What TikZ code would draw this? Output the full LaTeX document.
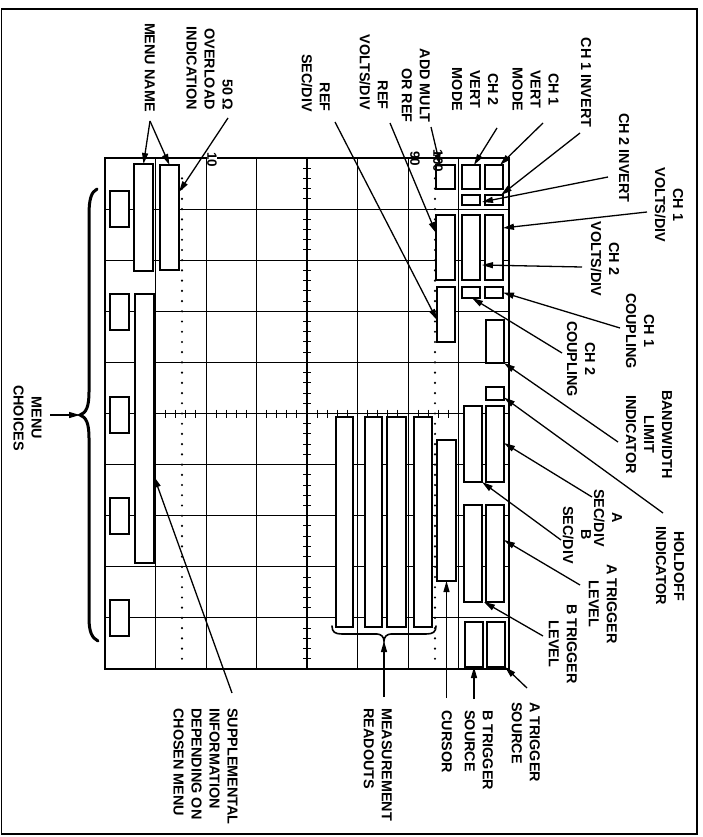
\documentclass[tikz,border=0pt]{standalone}
\usepackage{fontspec}
\setmainfont{Liberation Sans}
\usetikzlibrary{arrows.meta}
\newcommand\bx[5]{\node[bxs,minimum width={(#4-#2)*1pt},minimum height={(#5-#3)*1pt}] (#1) at ({(#2+#4)/2},{(#3+#5)/2}) {};}
\begin{document}
\begin{tikzpicture}[x=1pt,y=-1pt,
 lbl/.style={rotate=-90,inner sep=0pt,font=\fontsize{14.4}{18}\selectfont\bfseries},
 num/.style={rotate=-90,inner sep=0.5pt,font=\fontsize{13.5}{16}\selectfont\bfseries},
 bxs/.style={draw,fill=white,line width=1.4pt,inner sep=0pt,outer sep=0pt},
 gridln/.style={line width=1pt},
 arr/.style={line width=1.3pt,-{Triangle[length=11pt,width=6pt]}},
 bracestyle/.style={line width=1.6pt,line cap=round},
]
\useasboundingbox (0,0) rectangle (703,837);
% outer frame
\draw[line width=1.2pt] (1.5,9) rectangle (697,834);
% graticule
\foreach \i in {0,...,8} \draw[gridln] ({105+\i*50.5},158) -- ({105+\i*50.5},669);
\foreach \j in {0,...,10} \draw[gridln] (105,{158+\j*51.1}) -- (509,{158+\j*51.1});
\draw[line width=1.5pt] (307,158) -- (307,669);
\draw[line width=1.5pt] (105,413.5) -- (509,413.5);
\foreach \k in {1,...,49} \draw[line width=1pt] (303,{158+\k*10.22}) -- (311,{158+\k*10.22});
\foreach \k in {1,...,39} \draw[line width=1pt] ({105+\k*10.1},409.5) -- ({105+\k*10.1},417.5);
\foreach \k in {2,...,49} {\fill (182,{158+\k*10.22}) circle (1.2); \fill (435,{158+\k*10.22}) circle (1.2);}
\draw[line width=1.5pt] (105,158) rectangle (509,669);
% boxes, left
\bx{mc1}{110}{191}{129}{227}
\bx{mc2}{110}{294}{129}{330}
\bx{mc3}{110}{397}{129}{433}
\bx{mc4}{110}{498}{129}{534}
\bx{mc5}{110}{600}{129}{636}
\bx{mn}{134}{164}{153}{271}
\bx{ov}{160}{165}{179}{270}
\bx{sup}{135}{294}{154}{563}
% boxes, right
\bx{am}{436}{165}{455}{189}
\bx{v2}{462}{165}{480}{189}
\bx{v1}{485}{165}{503}{189}
\bx{i2}{462}{195}{480}{205}
\bx{i1}{485}{195}{503}{205}
\bx{rv}{436}{215}{455}{280}
\bx{cv2}{462}{215}{480}{280}
\bx{cv1}{485}{215}{503}{280}
\bx{rs}{437}{287}{455}{342}
\bx{cp2}{462}{287}{480}{298}
\bx{cp1}{485}{287}{503}{298}
\bx{bw}{486}{320}{504}{363}
\bx{ho}{486}{387}{504}{400}
\bx{as}{486}{406}{504}{482}
\bx{bs}{464}{406}{482}{482}
\bx{bl}{464}{505}{482}{602}
\bx{al}{486}{505}{504}{602}
\bx{bsrc}{465}{622}{483}{667}
\bx{asrc}{487}{622}{505}{667}
\bx{m1}{336}{417}{353}{627}
\bx{m2}{365}{417}{382}{627}
\bx{m3}{387}{417}{406}{627}
\bx{m4}{414}{417}{432}{627}
\bx{cur}{437}{440}{456}{581}
% graticule numbers
\node[num,fill=white] (n10) at (212,160) {10};
\node[num] (n90) at (415,159) {90};
\node[num] (n100) at (438,161) {100};
% braces
\coordinate (mcTip) at (80,415);
\draw[line width=3pt,line cap=round] (97,189) .. controls (91,192) and (89,200) .. (89,215) -- (89,392) .. controls (89,407) and (86,413) .. (mcTip) .. controls (86,417) and (89,423) .. (89,438) -- (89,618) .. controls (89,632) and (92,638) .. (98,641);
\coordinate (msTip) at (384,641);
\draw[bracestyle] (332,626) .. controls (332,632) and (335,634) .. (342,634) -- (377,634) .. controls (381,634) and (384,637) .. (msTip) .. controls (384,637) and (387,634) .. (391,634) -- (426,634) .. controls (433,634) and (436,632) .. (436,626);
% labels
\node[lbl,anchor=north east] (lMenuName) at (155,112) {MENU NAME};
\node[lbl,anchor=north east,align=right] (lOver) at (233,110) {50\,Ω\\OVERLOAD\\INDICATION};
\node[lbl,anchor=north east,align=right] (lRefSec) at (330,112) {REF\\SEC/DIV};
\node[lbl,anchor=north east,align=right] (lRefVolts) at (388,110) {REF\\VOLTS/DIV};
\node[lbl,anchor=north east,align=right] (lAdd) at (430,123) {ADD MULT\\OR REF};
\node[lbl,align=center] (lV2) at (475,89.5) {CH 2\\VERT\\MODE};
\node[lbl,align=center] (lV1) at (535.5,89.5) {CH 1\\VERT\\MODE};
\node[lbl] (lInv1) at (586,82.5) {CH 1 INVERT};
\node[lbl] (lInv2) at (624,158) {CH 2 INVERT};
\node[lbl,align=center] (lVd1) at (669,205) {CH 1\\VOLTS/DIV};
\node[lbl,align=center] (lVd2) at (605,259) {CH 2\\VOLTS/DIV};
\node[lbl,align=center] (lCp1) at (640,331) {CH 1\\COUPLING};
\node[lbl,align=center] (lCp2) at (581,359) {CH 2\\COUPLING};
\node[lbl,align=center] (lBw) at (649,434.5) {BANDWIDTH\\LIMIT\\INDICATOR};
\node[lbl,align=center] (lHo) at (670,566) {HOLDOFF\\INDICATOR};
\node[lbl,align=center] (lAs) at (608,518) {A\\SEC/DIV};
\node[lbl,align=center] (lBs) at (577,535) {B\\SEC/DIV};
\node[lbl,align=center] (lAl) at (603,604) {A TRIGGER\\LEVEL};
\node[lbl,align=center] (lBl) at (563,644) {B TRIGGER\\LEVEL};
\node[lbl,anchor=north west,align=left] (lAsrc) at (540,702) {A TRIGGER\\SOURCE};
\node[lbl,anchor=north west,align=left] (lBsrc) at (493,710) {B TRIGGER\\SOURCE};
\node[lbl,anchor=north west] (lCur) at (452,710) {CURSOR};
\node[lbl,anchor=north west,align=left] (lMeas) at (392,708) {MEASUREMENT\\READOUTS};
\node[lbl,anchor=north west,align=left] (lSup) at (238,708) {SUPPLEMENTAL\\INFORMATION\\DEPENDING ON\\CHOSEN MENU};
\node[lbl,align=center] (lMc) at (27.5,418) {MENU\\CHOICES};
% arrow start points
\coordinate (sMn) at (150,121);
\coordinate (sOv) at (228,118);
\coordinate (sRs) at (335,122);
\coordinate (sRv) at (390,123);
\coordinate (sAm) at (431,127);
\coordinate (sV2) at (497,128);
\coordinate (sV1) at (543,123);
\coordinate (sI1) at (580,133);
\coordinate (sI2) at (608,177);
\coordinate (sVd1) at (647,212);
\coordinate (sVd2) at (582,267);
\coordinate (sCp1) at (620,328);
\coordinate (sCp2) at (562,353);
\coordinate (sBw) at (618,442);
\coordinate (sHo) at (663,513);
\coordinate (sAs) at (592,497);
\coordinate (sBs) at (561,540);
\coordinate (sAl) at (580,585);
\coordinate (sBl) at (543,636);
\coordinate (sAsrc) at (527,688);
\coordinate (sBsrc) at (474,699);
\coordinate (sCur) at (446.5,698);
\coordinate (sMeas) at (384,697);
\coordinate (sSup) at (232,693);
\coordinate (sMc) at (50,415);
% arrows
\draw[arr] (sMn) -- (mn.north);
\draw[arr] (sMn) -- (ov.north);
\draw[arr] (sOv) -- ([yshift=-27pt]ov.north east);
\draw[arr] (sRs) -- ([yshift=-33pt]rs.north west);
\draw[arr] (sRv) -- ([yshift=-18pt]rv.north west);
\draw[arr] (sAm) -- ([xshift=4pt]am.north west);
\draw[arr] (sV2) -- ([xshift=12pt]v2.north west);
\draw[arr] (sV1) -- ([xshift=-3pt]v1.north east);
\draw[arr] (sI1) -- ([xshift=-2pt]i1.north east);
\draw[arr] (sI2) -- ([yshift=-2pt,xshift=2pt]i2.east);
\draw[arr] (sVd1) -- ([yshift=-13pt]cv1.north east);
\draw[arr] (sVd2) -- ([yshift=-50pt,xshift=2pt]cv2.north east);
\draw[arr] (sCp1) -- (cp1.east);
\draw[arr] (sCp2) -- ([xshift=10pt]cp2.south west);
\draw[arr] (sBw) -- (bw.south east);
\draw[arr] (sHo) -- ([yshift=-4pt]ho.east);
\draw[arr] (sAs) -- ([yshift=-37pt]as.north east);
\draw[arr] (sBs) -- (bs.south east);
\draw[arr] (sAl) -- ([yshift=-35pt]al.north east);
\draw[arr] (sBl) -- ([xshift=2pt]bl.south east);
\draw[arr] (sAsrc) -- (asrc.south east);
\draw[arr] (sBsrc) -- (bsrc.south);
\draw[arr] (sCur) -- (cur.south);
\draw[arr] (sMeas) -- (msTip);
\draw[arr] (sSup) -- ([yshift=-48pt]sup.east);
\draw[arr] (sMc) -- (mcTip);
\end{tikzpicture}
\end{document}
